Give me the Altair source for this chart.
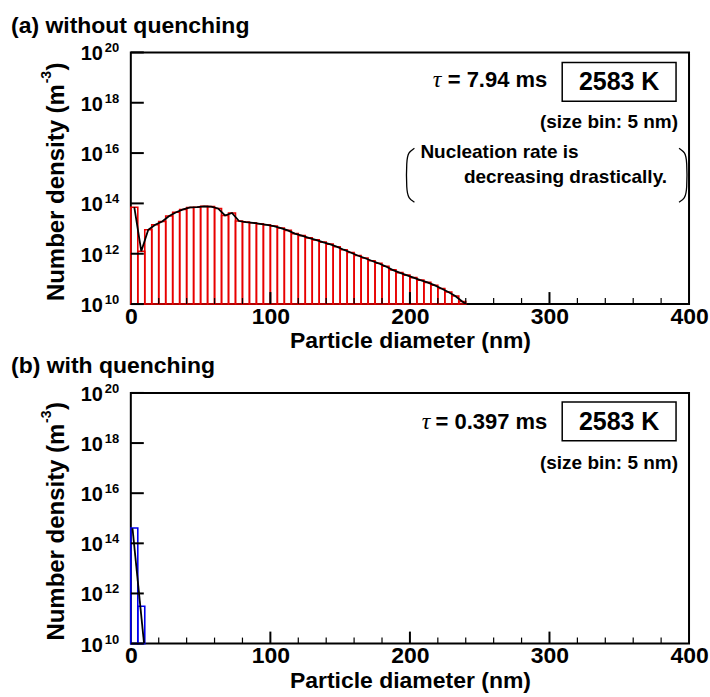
import altair as alt
import pandas as pd

# ---------------- data ----------------
# (a) without quenching: 5 nm bins, log10 of number density (m^-3)
top_bin_start = [0, 5, 10, 15, 20, 25, 30, 35, 40, 45, 50, 55, 60, 65, 70, 75,
                 80, 85, 90, 95, 100, 105, 110, 115, 120, 125, 130, 135, 140, 145,
                 150, 155, 160, 165, 170, 175, 180, 185, 190, 195, 200, 205, 210,
                 215, 220, 225, 230, 235]
top_log_n = [13.85, 12.10, 12.95, 13.15, 13.28, 13.50, 13.65, 13.76, 13.84, 13.85,
             13.88, 13.87, 13.80, 13.52, 13.62, 13.30, 13.26, 13.23, 13.19, 13.15,
             13.10, 13.02, 12.93, 12.80, 12.72, 12.63, 12.55, 12.46, 12.38, 12.28,
             12.16, 12.05, 11.93, 11.83, 11.72, 11.62, 11.50, 11.36, 11.25, 11.15,
             11.05, 10.95, 10.86, 10.75, 10.62, 10.48, 10.32, 10.10]
top_line_x = [2.5, 7.5, 12.5, 17.5, 22.5, 27.5, 32.5, 37.5, 42.5, 47.5, 52.5, 57.5,
              62.5, 67.5, 72.5, 77.5, 82.5, 87.5, 92.5, 97.5, 102.5, 107.5, 112.5,
              117.5, 122.5, 127.5, 132.5, 137.5, 142.5, 147.5, 152.5, 157.5, 162.5,
              167.5, 172.5, 177.5, 182.5, 187.5, 192.5, 197.5, 202.5, 207.5, 212.5,
              217.5, 222.5, 227.5, 232.5, 237.5, 240.0]
top_line_log_n = top_log_n + [10.0]

# (b) with quenching
bot_bin_start = [0, 5]
bot_log_n = [14.61, 11.49]
bot_line_x = [1.2, 9.5]
bot_line_log_n = [14.60, 10.0]

bin_width = 5
y_tick_values = [1e10, 1e12, 1e14, 1e16, 1e18, 1e20]
y_tick_exps = ["10", "12", "14", "16", "18", "20"]
x_label_values = [0, 100, 200, 300, 400]
x_minor_values = [20, 40, 60, 80, 120, 140, 160, 180, 220, 240, 260, 280,
                  320, 340, 360, 380]
x_major_values = [100, 200, 300]

# ---------------- layout constants ----------------
W = 559
FONT = "Liberation Sans"
RED = "#e80000"
BLUE = "#0000ee"


def bars_frame(starts, logs):
    return pd.DataFrame({
        "x0": starts,
        "x1": [s + bin_width for s in starts],
        "n": [10 ** v for v in logs],
        "base": [1e10] * len(starts),
    })


def line_frame(xs, logs):
    return pd.DataFrame({"x": xs, "n": [10 ** v for v in logs], "o": list(range(len(xs)))})


one = pd.DataFrame({"a": [0]})
x_scale = alt.Scale(domain=[0, 400], nice=False, zero=False)
y_scale = alt.Scale(type="log", domain=[1e10, 1e20], nice=False)
xaxis = alt.Axis(values=x_label_values, format="d", title="Particle diameter (nm)")


def txt(text, x, y, size, align="left", weight="bold", font=FONT, style="normal",
        angle=0, baseline="middle"):
    return alt.Chart(one).mark_text(
        align=align, baseline=baseline, fontSize=size, fontWeight=weight,
        font=font, fontStyle=style, angle=angle, color="black"
    ).encode(x=alt.value(x), y=alt.value(y), text=alt.value(text))


def panel(bars_df, line_df, color, title, title_y, tau, tau_x, H, box_top, tau_y, note):
    bars = alt.Chart(bars_df).mark_rect(
        fillOpacity=0, stroke=color, strokeWidth=1.6
    ).encode(
        x=alt.X("x0:Q", scale=x_scale, axis=xaxis),
        x2="x1:Q",
        y=alt.Y("n:Q", scale=y_scale, axis=None),
        y2="base:Q",
    )
    line = alt.Chart(line_df).mark_line(color="black", strokeWidth=1.8, clip=True).encode(
        x=alt.X("x:Q", scale=x_scale, axis=xaxis),
        y=alt.Y("n:Q", scale=y_scale, axis=None),
        order="o:Q",
    )
    yt = pd.DataFrame({"v": y_tick_values, "e": y_tick_exps})
    yticks = alt.Chart(yt).mark_rule(color="black", strokeWidth=2).encode(
        y=alt.Y("v:Q", scale=y_scale, axis=None), x=alt.value(0), x2=alt.value(13))
    ylab = alt.Chart(yt).mark_text(
        align="right", baseline="middle", fontSize=20, fontWeight="bold", font=FONT,
        color="black", dy=2
    ).encode(y=alt.Y("v:Q", scale=y_scale, axis=None), x=alt.value(-28), text=alt.value("10"))
    ysup = alt.Chart(yt).mark_text(
        align="left", baseline="middle", fontSize=13, fontWeight="bold", font=FONT,
        color="black", dy=-4
    ).encode(y=alt.Y("v:Q", scale=y_scale, axis=None), x=alt.value(-26), text="e:N")
    xmin = alt.Chart(pd.DataFrame({"v": x_minor_values})).mark_rule(
        color="black", strokeWidth=1.2
    ).encode(x=alt.X("v:Q", scale=x_scale, axis=xaxis), y=alt.value(H), y2=alt.value(H - 6))
    xmaj = alt.Chart(pd.DataFrame({"v": x_major_values})).mark_rule(
        color="black", strokeWidth=2
    ).encode(x=alt.X("v:Q", scale=x_scale, axis=xaxis), y=alt.value(H), y2=alt.value(H - 12))

    layers = [bars, line, yticks, ylab, ysup, xmin, xmaj]
    # panel title
    layers.append(txt(title, -120, title_y, 23, baseline="alphabetic"))
    # y-axis title with superscript
    layers.append(txt("Number density (m", -67, H - 3, 24, angle=270, baseline="alphabetic"))
    layers.append(txt("-3", -80, H - 3 - 218, 14, angle=270, baseline="alphabetic"))
    layers.append(txt(")", -67, H - 3 - 231, 24, angle=270, baseline="alphabetic"))
    # annotations
    layers.append(txt("\u03c4", tau_x, tau_y, 24, align="right", weight="normal",
                      font="Liberation Serif", style="italic"))
    layers.append(txt(tau, 417, tau_y, 22, align="right"))
    box = alt.Chart(one).mark_rect(fillOpacity=0, stroke="black", strokeWidth=1.5).encode(
        x=alt.value(432), x2=alt.value(546), y=alt.value(box_top), y2=alt.value(box_top + 39))
    layers.append(box)
    layers.append(txt("2583 K", 489, box_top + 20, 25, align="center"))
    layers.append(txt("(size bin: 5 nm)", 548, 70, 19, align="right"))
    if note:
        layers.append(txt("Nucleation rate is", 290, 100, 19))
        layers.append(txt("decreasing drastically.", 537, 125, 19, align="right"))
        br = pd.DataFrame({
            "px": [284, 278, 276, 276, 278, 284, 549, 555, 557, 557, 555, 549],
            "py": [96, 100, 108, 138, 146, 150, 96, 100, 108, 138, 146, 150],
            "o": list(range(6)) * 2,
            "g": ["l"] * 6 + ["r"] * 6,
        })
        brackets = alt.Chart(br).mark_line(
            color="black", strokeWidth=1.3, interpolate="basis"
        ).encode(
            x=alt.X("px:Q", scale=None, axis=None),
            y=alt.Y("py:Q", scale=None, axis=None),
            order="o:Q", detail="g:N",
        )
        layers.append(brackets)
    return alt.layer(*layers).properties(width=W, height=H)


top = panel(bars_frame(top_bin_start, top_log_n), line_frame(top_line_x, top_line_log_n),
            RED, "(a) without quenching", -19, "= 7.94 ms", 311, 252, 10, 28, True)
bottom = panel(bars_frame(bot_bin_start, bot_log_n), line_frame(bot_line_x, bot_line_log_n),
               BLUE, "(b) with quenching", -20, "= 0.397 ms", 300, 251, 9, 29, False)

chart = alt.vconcat(top, bottom, spacing=0).properties(
    padding={"left": 10, "top": 14, "right": 0, "bottom": 0},
    background="white",
).configure_view(
    stroke="black", strokeWidth=2
).configure_axis(
    domain=False, ticks=False, grid=False,
    labelFont=FONT, labelFontSize=23, labelFontWeight="bold", labelColor="black",
    labelPadding=1, labelFlush=False,
    titleFont=FONT, titleFontSize=23, titleFontWeight="bold", titleColor="black",
    titlePadding=2,
)

chart.save("out.html", embed_options={"renderer": "svg", "actions": False})
